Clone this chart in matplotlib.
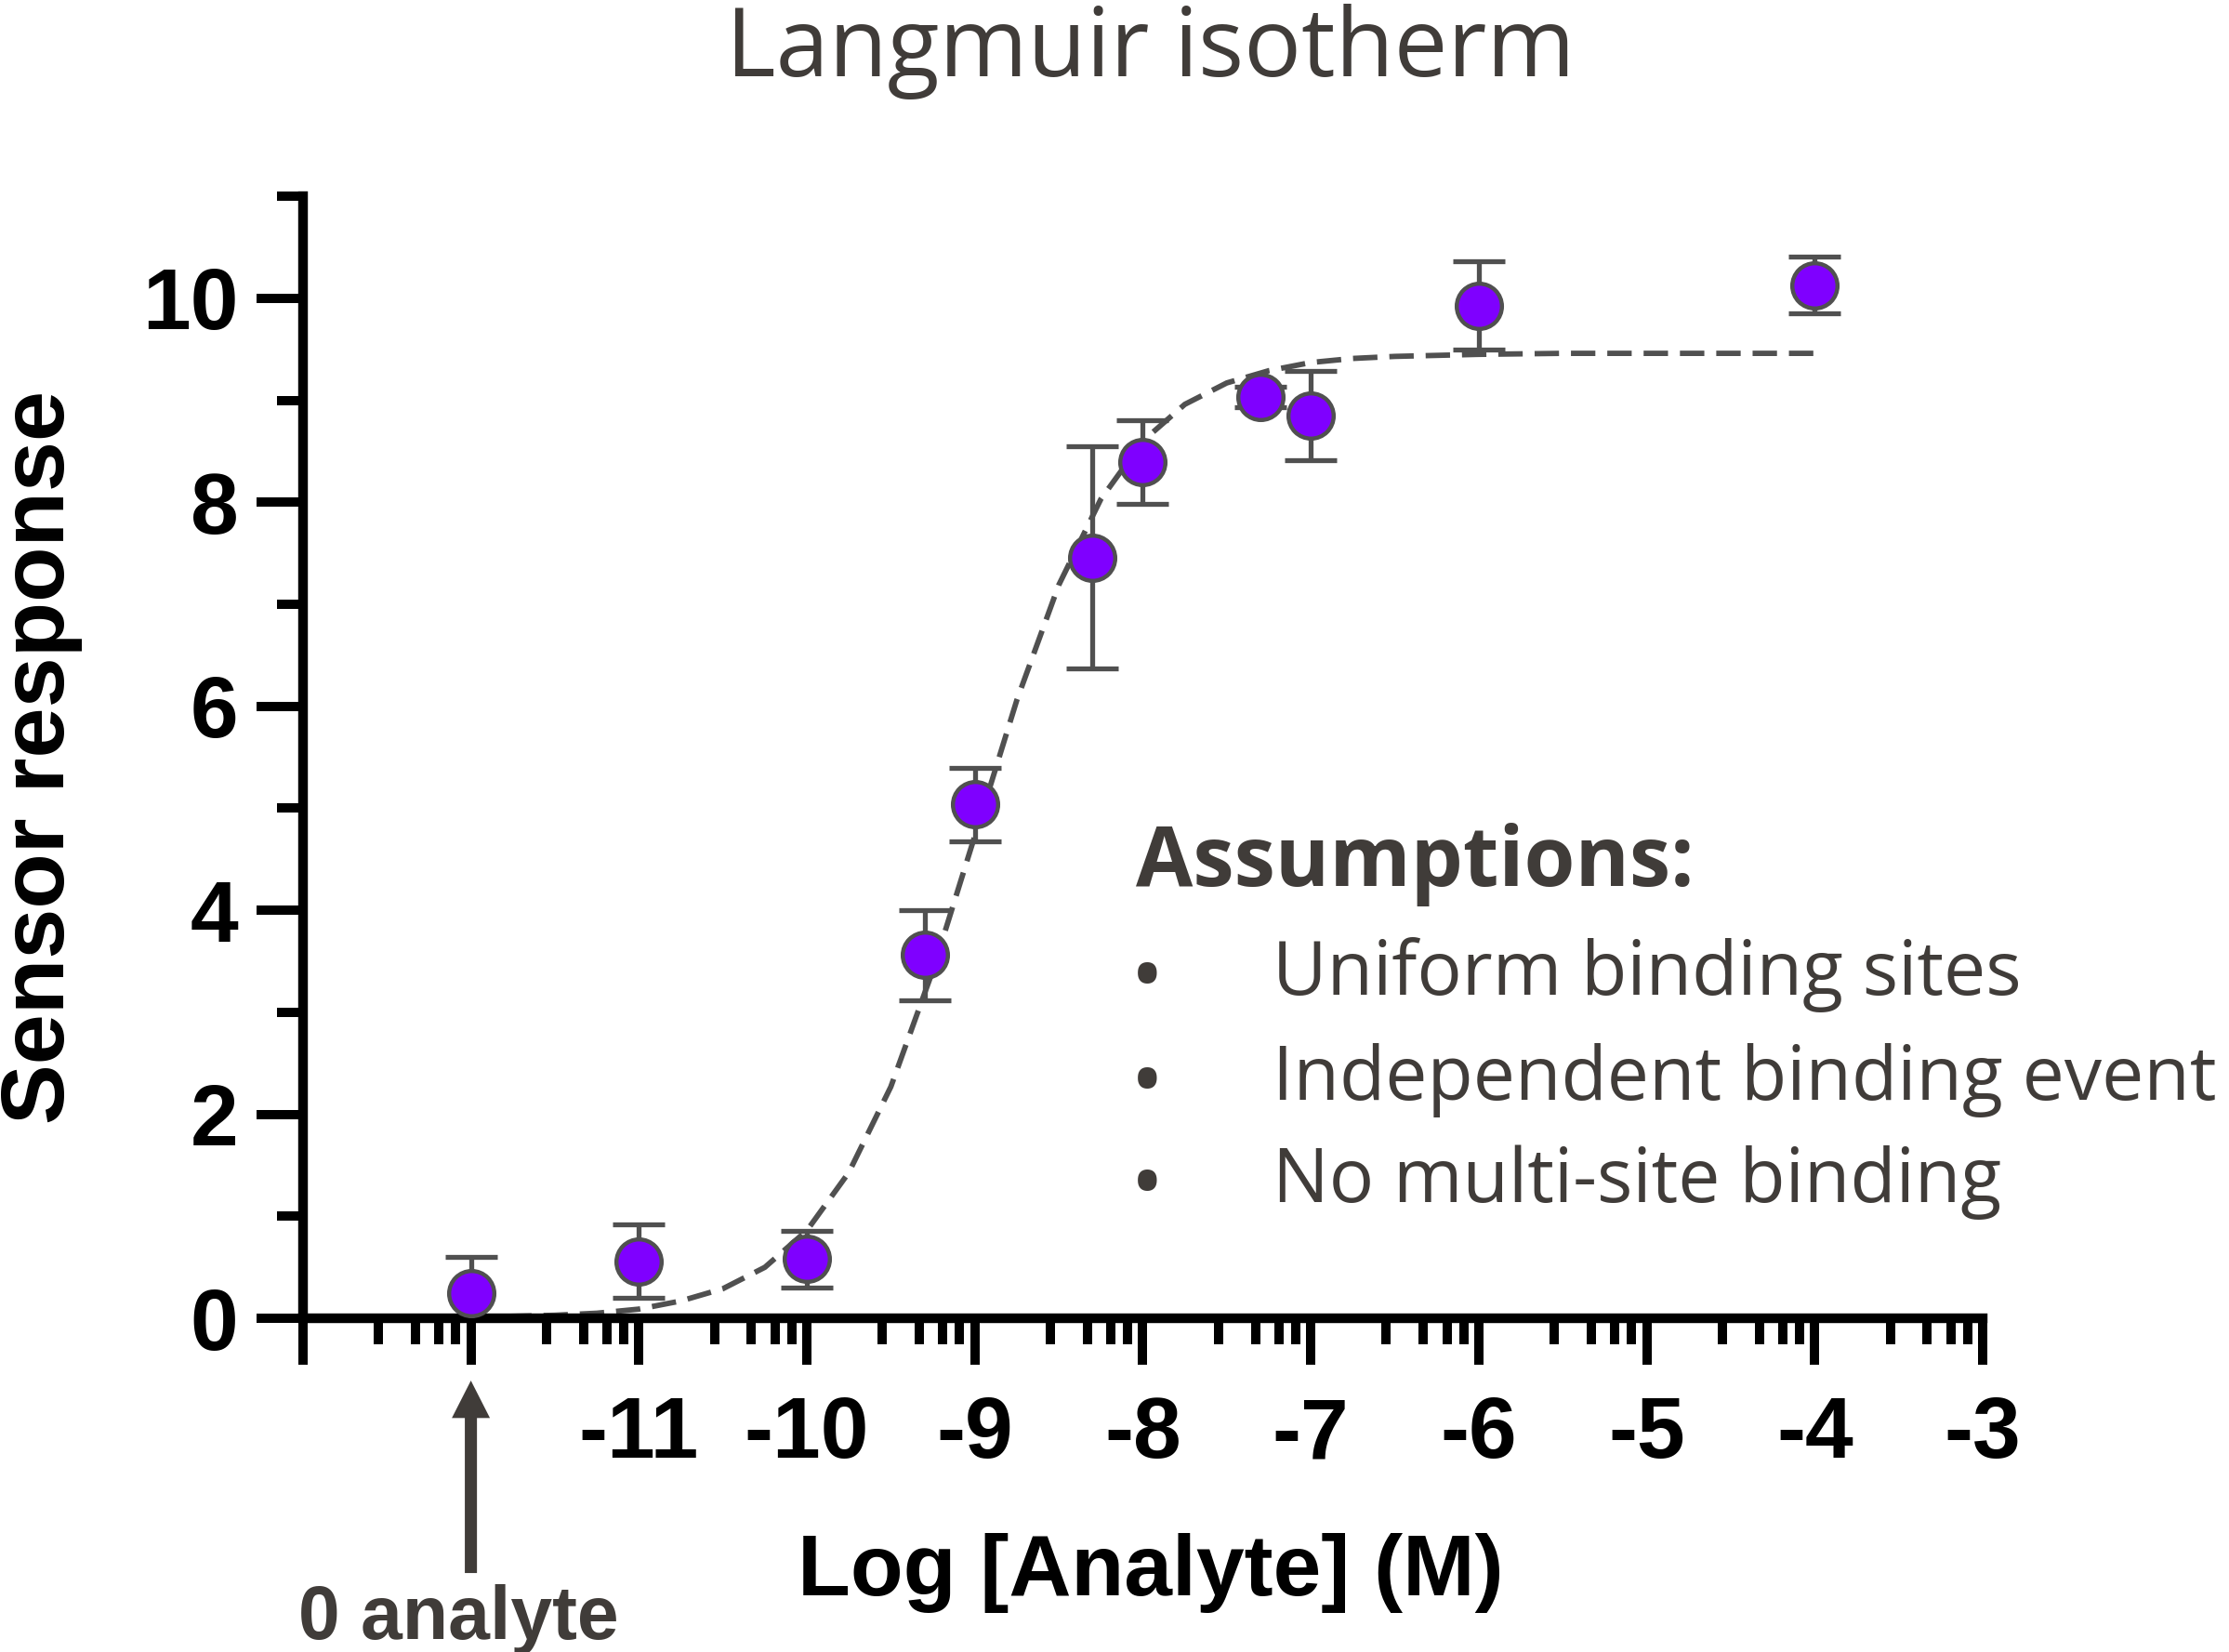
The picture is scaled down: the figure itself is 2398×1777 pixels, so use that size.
import numpy as np
import matplotlib
matplotlib.use("Agg")
import matplotlib.pyplot as plt
from matplotlib import font_manager

# measured points: log concentration, mean response, error (SD)
log_conc = [-12, -11, -10, -9.3, -9, -8.3, -8, -7.3, -7, -6, -4]
response = [0.25, 0.56, 0.58, 3.56, 5.04, 7.46, 8.39, 9.03, 8.85, 9.93, 10.13]
resp_err = [0.35, 0.36, 0.28, 0.44, 0.36, 1.09, 0.41, 0.10, 0.44, 0.43, 0.28]

# fitted Langmuir curve
fit_x = [-12, -11.75, -11.5, -11.25, -11, -10.75, -10.5, -10.25, -10, -9.75,
         -9.5, -9.25, -9, -8.75, -8.5, -8.25, -8, -7.75, -7.5, -7.25, -7,
         -6.75, -6.5, -6.25, -6, -5.5, -5, -4.5, -4]
fit_y = [0.01, 0.02, 0.03, 0.05, 0.09, 0.17, 0.29, 0.50, 0.86, 1.43,
         2.27, 3.41, 4.73, 6.06, 7.19, 8.03, 8.60, 8.96, 9.17, 9.29, 9.37,
         9.41, 9.43, 9.44, 9.45, 9.46, 9.46, 9.46, 9.46]

x_ticks = [-13, -12, -11, -10, -9, -8, -7, -6, -5, -4, -3]
x_ticklabels = ['', '', '-11', '-10', '-9', '-8', '-7', '-6', '-5', '-4', '-3']
y_ticks = [0, 2, 4, 6, 8, 10]
y_minor = [1, 3, 5, 7, 9, 11]

assumptions = ["Uniform binding sites", "Independent binding event", "No multi-site binding"]

names = {f.name for f in font_manager.fontManager.ttflist}
tick_font = 'Liberation Sans Narrow' if 'Liberation Sans Narrow' in names else 'Liberation Sans'
text_gray = '#403c39'
mark_gray = '#505050'

fig = plt.figure(figsize=(23.98, 17.77), dpi=100)
ax = fig.add_axes([0.1359, 0.2020, 0.7536, 0.6792])

ax.plot(fit_x, fit_y, color=mark_gray, lw=4.2, dashes=(4.5, 2.2), zorder=2)
ax.errorbar(log_conc, response, yerr=resp_err, fmt='none', ecolor=mark_gray,
            elinewidth=3.8, capsize=20, capthick=3.8, zorder=3)
ax.plot(log_conc, response, 'o', ms=35, mfc='#7f00ff', mec=mark_gray, mew=3.2,
        zorder=4, clip_on=False)

ax.set_xlim(-13, -3)
ax.set_ylim(0, 11)
for s in ['top', 'right']:
    ax.spines[s].set_visible(False)
for s in ['left', 'bottom']:
    ax.spines[s].set_linewidth(7.5)

# minor ticks inside each decade
minor_frac = [0.45, 0.67, 0.81, 0.91]
x_minor = [d + f for d in x_ticks[:-1] for f in minor_frac]

ax.set_xticks(x_ticks)
ax.set_xticklabels(x_ticklabels)
ax.set_xticks(x_minor, minor=True)
ax.set_yticks(y_ticks)
ax.set_yticks(y_minor, minor=True)
ax.tick_params(which='major', length=36, width=7.2, color='black')
ax.tick_params(which='minor', length=20, width=7.2, color='black')
ax.tick_params(axis='x', which='major', pad=24)
ax.tick_params(axis='y', which='major', pad=14)
for lab in ax.get_xticklabels() + ax.get_yticklabels():
    lab.set_fontfamily(tick_font)
    lab.set_fontweight('bold')
    lab.set_fontsize(67)

fig.text(0.0183, 0.5414, 'Sensor response', rotation=90, ha='center', va='center',
         fontsize=70, fontweight='bold', family='Liberation Sans')
fig.text(0.5163, 0.0343, 'Log [Analyte] (M)', ha='center', va='baseline',
         fontsize=67, fontweight='bold', family='Liberation Sans')
fig.text(0.5163, 0.9539, 'Langmuir isotherm', ha='center', va='baseline',
         fontsize=74, color=text_gray, family='Open Sans')

# zero analyte arrow
ax.annotate('', xy=(-12, 0.1643), xycoords=('data', 'figure fraction'),
            xytext=(-12, 0.0478), textcoords=('data', 'figure fraction'),
            arrowprops=dict(width=9.4, headwidth=29.5, headlength=29, shrink=0,
                            facecolor=text_gray, edgecolor=text_gray, lw=0))
fig.text(0.2056, 0.0079, '0 analyte', ha='center', va='baseline', fontsize=58,
         fontweight='bold', color=text_gray, family='Liberation Sans')

fig.text(0.5096, 0.4637, 'Assumptions:', ha='left', va='baseline', fontsize=64,
         fontweight='bold', color=text_gray, family='Open Sans')
item_y = [0.3979, 0.3343, 0.2724]
for txt, yy in zip(assumptions, item_y):
    fig.text(0.5146, yy - 0.007, '\u2022', ha='center', va='baseline', fontsize=70,
             color=text_gray, family='Open Sans')
    fig.text(0.5709, yy, txt, ha='left', va='baseline', fontsize=58,
             color=text_gray, family='Open Sans')

fig.savefig('out.png', dpi=100)
